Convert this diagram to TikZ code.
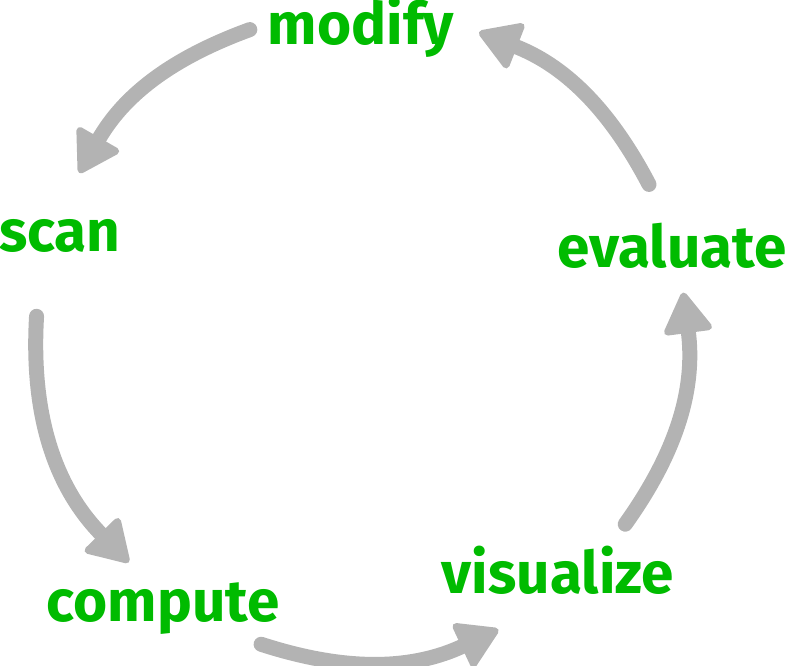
\documentclass[tikz,border=0pt]{standalone}
\usepackage{fontspec}
\setmainfont{Fira Sans}
\usetikzlibrary{arrows.meta}

\definecolor{steptextcolor}{RGB}{0,187,0}
\definecolor{cyclecolor}{RGB}{179,179,179}
\tikzset{steplabel/.style={text=steptextcolor, font=\fontsize{58.5}{62}\selectfont\bfseries, inner sep=0pt, anchor=base},%
    cycleconn/.style={line width=15pt, color=cyclecolor, line cap=round, -{Triangle[length=44pt, width=52pt, round, line width=7pt]}}%
}

\begin{document}
\begin{tikzpicture}[x=1pt, y=1pt]
    \useasboundingbox (0,0) rectangle (788,665);
    \begin{scope} %place the step labels
        \foreach \nodename/\xpos/\ypos in {%
                modify/361/620,
                scan/60/413,
                compute/163/44,
                visualize/558/72,
                evaluate/672/397
            } \node[steplabel] (\nodename) at (\xpos, \ypos) {\nodename};
    \end{scope}
    \begin{scope}[shift={(361,330)}] %ends of the arcs on the cycle
        \foreach \cname/\ang in {%
                modifyout/110, scanin/150.1,
                scanout/176.7, computein/224.4,
                computeout/252.1, visualizein/295,
                visualizeout/324.4, evaluatein/367.5,
                evaluateout/27.6, modifyin/68.7
            } \coordinate (\cname) at (\ang:325);
    \end{scope}
    \begin{scope} %draw connections
        \foreach \from/\to/\bendang in {%
                modifyout/scanin/20,
                scanout/computein/23.9,
                computeout/visualizein/21.5,
                visualizeout/evaluatein/21.5,
                evaluateout/modifyin/20.5
            } \draw[cycleconn] (\from) to[bend right=\bendang] (\to);
    \end{scope}
\end{tikzpicture}
\end{document}
